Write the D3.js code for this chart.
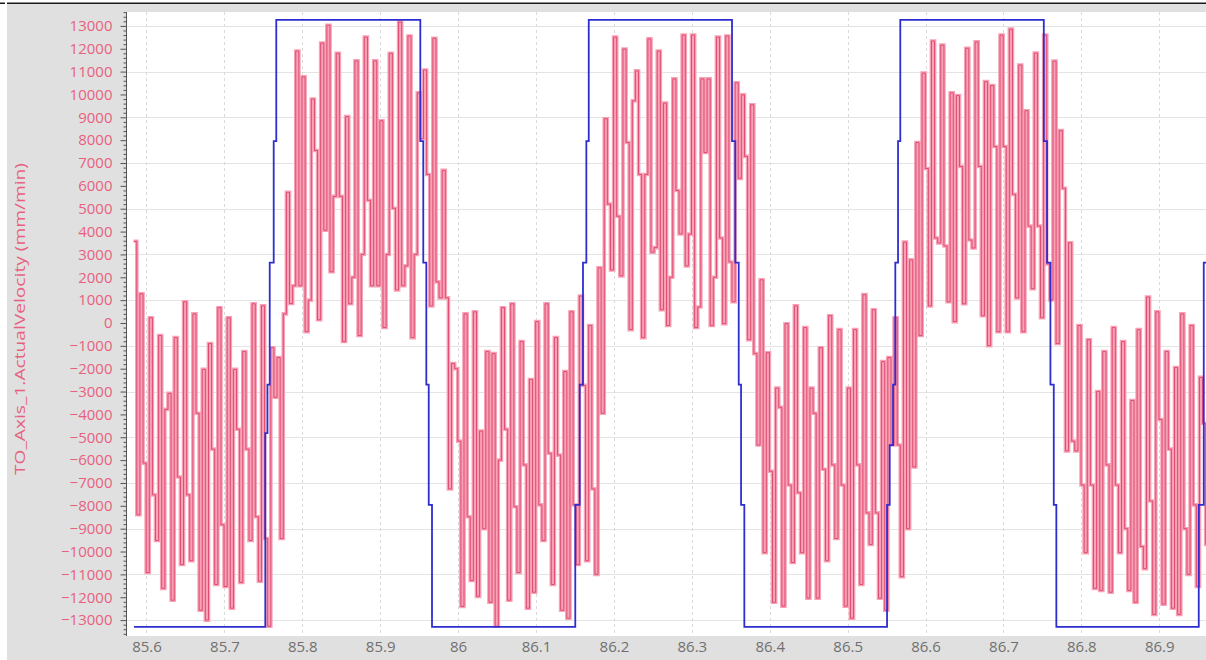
<!DOCTYPE html>
<html>
<head>
<meta charset="utf-8">
<script src="https://cdn.jsdelivr.net/npm/d3@7/dist/d3.min.js"></script>
<style>
  html, body { margin: 0; padding: 0; background: #ffffff; }
  svg { display: block; }
  text { font-family: "Open Sans", "Noto Sans", sans-serif; }
</style>
</head>
<body>
<svg id="chart" width="1206" height="660"></svg>
<script>
// Trace of TO_Axis_1: actual velocity (4 ms samples) and velocity setpoint steps.
const xTicks = [85.6, 85.7, 85.8, 85.9, 86.0, 86.1, 86.2, 86.3, 86.4, 86.5, 86.6, 86.7, 86.8, 86.9];
const yTicks = [13000, 12000, 11000, 10000, 9000, 8000, 7000, 6000, 5000, 4000, 3000, 2000, 1000, 0,
  -1000, -2000, -3000, -4000, -5000, -6000, -7000, -8000, -9000, -10000, -11000, -12000, -13000];
const yGrid = [13000, 11000, 9000, 7000, 5000, 3000, 1000, -1000, -3000, -5000, -7000, -9000, -11000, -13000];
const yLabel = "TO_Axis_1.ActualVelocity (mm/min)";

// actual velocity, sampled every 4 ms from t = 85.5836 s
const actualStart = 85.5836;
const actualStep = 0.004;
const actualVelocity = [
  3575, -8390, 1280, -6130, -10920, 230, -7520, -9520, -550, -11610,
  -3780, -3080, -12130, -640, -6740, -10570, 930, -7520, -10400, 400,
  -3950, -12570, -2030, -13000, -900, -5520, -11440, 670, -8830, -11530,
  230, -12480, -2030, -4650, -11350, -1250, -5520, -9520, 840, -8480,
  -11300, 750, -9430, -13270, -1080, -3250, -1510, -9430, 400, 5720,
  850, 1630, 11900, 1630, 10770, -380, 1000, 9800, 7550, 140,
  12250, 4060, 13030, 2240, 5540, 11800, 5540, -810, 9030, 840,
  2000, 11470, -550, 3000, 12510, 5370, 1630, 11470, 1630, 8850,
  -200, 3000, 11800, 5020, 1450, 13170, 1630, 2500, 12560, -640,
  3000, 10070, 8070, 11070, 6500, 750, 12460, 1800, 1100, 6680,
  1100, -7260, -1770, -2000, -5170, -12400, 400, -8480, -11270, 490,
  -11960, -4730, -9000, -1250, -12220, -1340, -13270, -6000, 670, -4650,
  -12130, 840, -8040, -10920, -810, -6210, -12480, -2470, -11780, 60,
  -7960, -9520, 840, -5700, -11440, -640, -5780, -12570, -2120, -12920,
  490, -7960, -10570, 1180, -2730, -10400, -110, -7260, -11000, 2410,
  -3950, 8940, 5200, 2320, 12510, 4670, 2060, 11990, 7900, -290,
  9720, 11030, 6500, -640, 6500, 12430, 3100, 3300, 11900, 580,
  9620, -110, 2000, 10680, 5800, 3900, 12600, 2500, 3890, 12600,
  -200, 700, 10680, 7460, 10680, -110, 2000, 12510, 3720, -30,
  12560, 2670, 930, 10510, 6330, 9980, 7290, -730, 9550, -1340,
  -5340, 1890, -10050, -1300, -6490, -12220, -2850, -3690, -12390, -30,
  -7090, -10480, 750, -7430, -10050, -200, -12040, -2850, -3950, -12040,
  -1080, -6400, -10400, 320, -6210, -9430, -290, -7090, -12390, -2850,
  -12920, -290, -6210, -11440, 1240, -8310, -9690, 580, -8310, -12040,
  -1690, -12570, -1510, -5340, 230, -5340, -11100, 3540, -9000, 2760,
  -6300, 7900, -550, 10940, 6760, 750, 12340, 3720, 3500, 12160,
  3370, 930, 10070, 60, 9950, 6850, 840, 12020, 3630, 3280,
  12300, 6850, 320, 10560, -990, 10390, 7720, -380, 12600, 7720,
  -380, 12860, 5630, 1100, 11290, -380, 9290, 4240, 1500, 11810,
  4240, 230, 12600, 2580, 1010, 11460, -900, 8420, 5890, -5600,
  3510, -5170, -5600, -110, -7090, -10050, -730, -7090, -11610, -3000,
  -11700, -1250, -6210, -11780, -200, -7090, -10050, -810, -9000, -11700,
  -3390, -12220, -290, -9780, -10750, 1140, -7790, -12750, 490, -4220,
  -12300, -1250, -5520, -12480, -1950, -12750, 400, -9000, -11000, -110,
  -7960, -11530, -2380, -4390, -9690, -2640, -11780
];

// velocity setpoint: times (s) where the value changes, and the value held from there
const setpointTime = [
  85.5840, 85.7525, 85.7553, 85.7582, 85.7633, 85.7666,
  85.9515, 85.9553, 85.9592, 85.9623, 85.9665,
  86.1504, 86.1561, 86.1603, 86.1646, 86.1677,
  86.3516, 86.3558, 86.3602, 86.3632, 86.3674,
  86.5506, 86.5540, 86.5583, 86.5612, 86.5647, 86.5676,
  86.7518, 86.7560, 86.7603, 86.7646, 86.7679,
  86.9507, 86.9571, 86.9700
];
const setpointValue = [
  -13300, -4820, -2700, 2640, 7960, 13260,
  7960, 2640, -2700, -7960, -13300,
  -7960, -2700, 2640, 7960, 13260,
  7960, 2640, -2700, -7960, -13300,
  -7960, -5340, -2700, 2640, 7960, 13260,
  7960, 2640, -2700, -7960, -13300,
  -7960, 2640, 2640
];

const W = 1206, H = 660;
const plot = { left: 127, right: 1206, top: 12, bottom: 636 };

const svg = d3.select("#chart");

// frame: grey panel behind axes, dark rule along the top
svg.append("rect").attr("x", 0).attr("y", 0).attr("width", W).attr("height", H).attr("fill", "#ffffff");
svg.append("rect").attr("x", 7).attr("y", 3).attr("width", W - 7).attr("height", H - 3).attr("fill", "#e0e0e0");
svg.append("rect").attr("x", 7).attr("y", 2.5).attr("width", W - 7).attr("height", 1.5).attr("fill", "#1a1a1a");
svg.append("rect").attr("x", 0).attr("y", 2.5).attr("width", 5).attr("height", 1.5).attr("fill", "#1a1a1a");
svg.append("rect").attr("x", plot.left).attr("y", plot.top)
  .attr("width", plot.right - plot.left).attr("height", plot.bottom - plot.top).attr("fill", "#ffffff");

const x = d3.scaleLinear().domain([85.575, 86.960]).range([plot.left, plot.right]);
const y = d3.scaleLinear().domain([-13696, 13608]).range([plot.bottom, plot.top]);

// grid
const grid = svg.append("g");
grid.selectAll("line.h").data(yGrid).join("line")
  .attr("x1", plot.left).attr("x2", plot.right)
  .attr("y1", d => Math.round(y(d)) + 0.5).attr("y2", d => Math.round(y(d)) + 0.5)
  .attr("stroke", "#e4e4e4").attr("stroke-width", 1);
grid.selectAll("line.v").data(xTicks).join("line")
  .attr("x1", d => Math.round(x(d)) + 0.5).attr("x2", d => Math.round(x(d)) + 0.5)
  .attr("y1", plot.top).attr("y2", plot.bottom)
  .attr("stroke", "#dadada").attr("stroke-width", 1).attr("stroke-dasharray", "3,3");

// y axis with minor ticks
const minor = d3.range(-13600, 13601, 200).filter(v => v % 1000 !== 0);
const yMinor = svg.append("g").attr("transform", `translate(${plot.left - 0.5},0)`)
  .call(d3.axisLeft(y).tickValues(minor).tickSize(3).tickFormat(""));
yMinor.select(".domain").remove();
yMinor.selectAll("line").attr("stroke", "#555");

const yAxis = svg.append("g").attr("transform", `translate(${plot.left - 0.5},0)`)
  .call(d3.axisLeft(y).tickValues(yTicks).tickSize(6).tickPadding(8).tickFormat(d3.format("d")));
yAxis.select(".domain").attr("stroke", "#555").attr("d", `M0,${plot.top}V${plot.bottom}`);
yAxis.selectAll("line").attr("stroke", "#555");
yAxis.selectAll("text").attr("fill", "#e8607e").attr("font-size", "15px")
  .style("font-family", "'Open Sans', sans-serif");

// x axis labels
const xAxis = svg.append("g").attr("transform", `translate(0,${plot.bottom})`)
  .call(d3.axisBottom(x).tickValues(xTicks).tickSize(0).tickPadding(5).tickFormat(d3.format("~g")));
xAxis.select(".domain").remove();
xAxis.selectAll("text").attr("fill", "#707070").attr("font-size", "15px")
  .style("font-family", "'Open Sans', sans-serif");

// y title
svg.append("text")
  .attr("transform", `translate(25,319) rotate(-90)`)
  .attr("text-anchor", "middle")
  .attr("fill", "#e8607e").attr("font-size", "15px")
  .attr("textLength", 312).attr("lengthAdjust", "spacingAndGlyphs")
  .text(yLabel);

// series
svg.append("clipPath").attr("id", "plotClip").append("rect")
  .attr("x", plot.left).attr("y", plot.top)
  .attr("width", plot.right - plot.left).attr("height", plot.bottom - plot.top);
const layer = svg.append("g").attr("clip-path", "url(#plotClip)");

const actual = actualVelocity.map((v, i) => ({ t: actualStart + i * actualStep, v }));
const setpoint = setpointTime.map((t, i) => ({ t, v: setpointValue[i] }));

const stepLine = d3.line().x(d => x(d.t)).y(d => y(d.v)).curve(d3.curveStepAfter);

layer.append("path").datum(actual).attr("d", stepLine)
  .attr("fill", "none").attr("stroke", "#f7a2b6").attr("stroke-width", 3.6)
  .attr("stroke-linejoin", "miter");
layer.append("path").datum(actual).attr("d", stepLine)
  .attr("fill", "none").attr("stroke", "#dc4169").attr("stroke-width", 0.9);

layer.append("path").datum(setpoint).attr("d", stepLine)
  .attr("fill", "none").attr("stroke", "#2e2ed0").attr("stroke-width", 1.8);
</script>
</body>
</html>
